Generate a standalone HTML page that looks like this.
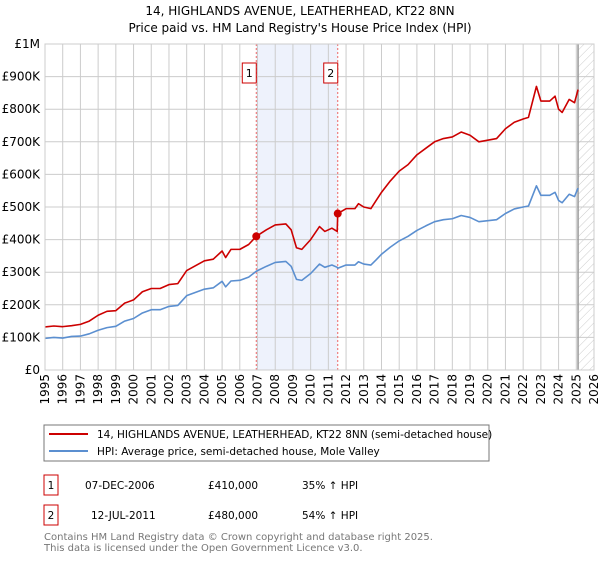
<!DOCTYPE html>
<html><head><meta charset="utf-8"><style>
body{margin:0;background:#fff;font-family:"DejaVu Sans","Liberation Sans",sans-serif}
svg text{font-family:"DejaVu Sans","Liberation Sans",sans-serif}
</style></head><body>
<svg id="c" width="600" height="560" xmlns="http://www.w3.org/2000/svg">
<defs><pattern id="hatch" width="6" height="6" patternUnits="userSpaceOnUse" patternTransform="rotate(45)"><line x1="0" y1="0" x2="0" y2="6" stroke="#ccc" stroke-width="1"/></pattern></defs>
<text x="300" y="15" text-anchor="middle" font-size="12">14, HIGHLANDS AVENUE, LEATHERHEAD, KT22 8NN</text>
<text x="300" y="32" text-anchor="middle" font-size="12">Price paid vs. HM Land Registry's House Price Index (HPI)</text>
<g id="plot"></g>
<rect x="44" y="425" width="445" height="36" fill="none" stroke="#777"/>
<line x1="49" y1="434" x2="88" y2="434" stroke="#cc0000" stroke-width="2"/>
<text x="97" y="438" font-size="10.5">14, HIGHLANDS AVENUE, LEATHERHEAD, KT22 8NN (semi-detached house)</text>
<line x1="49" y1="451" x2="88" y2="451" stroke="#5b8fd0" stroke-width="2"/>
<text x="97" y="455" font-size="10.5">HPI: Average price, semi-detached house, Mole Valley</text>
<g font-size="10.5">
<rect x="44" y="475" width="14" height="20" fill="none" stroke="#c00"/>
<text x="51" y="489" text-anchor="middle">1</text>
<text x="85" y="489">07-DEC-2006</text><text x="208" y="489">£410,000</text><text x="302" y="489">35% ↑ HPI</text>
<rect x="44" y="505" width="14" height="20" fill="none" stroke="#c00"/>
<text x="51" y="519" text-anchor="middle">2</text>
<text x="91" y="519">12-JUL-2011</text><text x="208" y="519">£480,000</text><text x="302" y="519">54% ↑ HPI</text>
</g>
<text x="44" y="540" font-size="10" fill="#777">Contains HM Land Registry data © Crown copyright and database right 2025.</text>
<text x="44" y="551" font-size="10" fill="#777">This data is licensed under the Open Government Licence v3.0.</text>
</svg>
<script>
const dates=[1995,1995.5,1996,1996.5,1997,1997.5,1998,1998.5,1999,1999.5,2000,2000.5,2001,2001.5,2002,2002.5,2003,2003.5,2004,2004.5,2005,2005.2,2005.5,2006,2006.5,2006.93,2007.5,2008,2008.6,2008.9,2009.2,2009.5,2010,2010.5,2010.8,2011.2,2011.5,2011.53,2012,2012.5,2012.7,2013,2013.4,2013.7,2014,2014.5,2015,2015.5,2016,2016.5,2017,2017.5,2018,2018.5,2019,2019.5,2020,2020.5,2021,2021.5,2022,2022.3,2022.75,2023,2023.5,2023.8,2024,2024.2,2024.6,2024.9,2025.1];
const propertyValues=[132,135,133,136,140,150,168,180,182,205,215,240,250,250,262,265,305,320,335,340,365,345,370,370,385,410,430,445,448,430,375,370,400,440,425,435,425,480,495,495,510,500,495,520,545,580,610,630,660,680,700,710,715,730,720,700,705,710,740,760,770,775,870,825,825,840,800,790,830,820,860];
const hpiValues=[97,100,98,103,104,111,122,130,134,150,158,175,185,185,195,198,228,238,248,252,272,255,273,275,285,303,318,330,333,318,278,275,296,325,315,322,315,312,322,322,332,325,322,338,355,377,396,410,428,442,455,461,464,474,468,455,458,461,480,494,500,503,565,536,536,545,520,513,539,532,558];
const yTicks=[0,100,200,300,400,500,600,700,800,900,1000];
const yTickLabels=["£0","£100K","£200K","£300K","£400K","£500K","£600K","£700K","£800K","£900K","£1M"];
const xYears=[1995,1996,1997,1998,1999,2000,2001,2002,2003,2004,2005,2006,2007,2008,2009,2010,2011,2012,2013,2014,2015,2016,2017,2018,2019,2020,2021,2022,2023,2024,2025,2026];
const saleDates=[2006.93,2011.53];
const salePrices=[410,480];
const saleLabels=["1","2"];
const L=45,R=594,T=44,B=370,x0=1995,x1=2026,dataEnd=2025.1;
const X=v=>L+(v-x0)/(x1-x0)*(R-L);
const Y=v=>B-v/1000*(B-T);
const NS="http://www.w3.org/2000/svg";
const g=document.getElementById('plot');
function mk(t,a){const e=document.createElementNS(NS,t);for(const k in a)e.setAttribute(k,a[k]);g.appendChild(e);return e;}
let sh=mk('rect',{x:X(saleDates[0]),y:T,width:X(saleDates[1])-X(saleDates[0]),height:B-T,fill:'#eef2fc'});


let ht=mk('rect',{x:X(dataEnd),y:T,width:R-X(dataEnd),height:B-T,fill:'url(#hatch)'});


yTicks.forEach((v,i)=>{
 let l=mk('line',{x1:L,x2:R,y1:Y(v),y2:Y(v),stroke:'#ccc'});
 
 
 let t=mk('text',{x:40,y:Y(v)+4,'text-anchor':'end','font-size':'12'});t.textContent=yTickLabels[i];
 
 
});
xYears.forEach(yr=>{
 let l=mk('line',{x1:X(yr),x2:X(yr),y1:T,y2:B,stroke:'#ccc'});
 
 
 let t=mk('text',{x:0,y:0,'text-anchor':'end','font-size':'12',transform:`translate(${X(yr)+4},374) rotate(-90)`});t.textContent=yr;
 
 
});
let el=mk('line',{x1:X(dataEnd),x2:X(dataEnd),y1:T,y2:B,stroke:'#999','stroke-width':1.5});


saleDates.forEach((d,i)=>{
 let l=mk('line',{x1:X(d),x2:X(d),y1:T,y2:B,stroke:'#e66','stroke-dasharray':'2,2'});
 
 
 let r=mk('rect',{x:X(d)-14,y:63,width:14,height:20,fill:'#fff',stroke:'#c00'});
 
 
 let t=mk('text',{x:X(d)-7,y:77,'text-anchor':'middle','font-size':'11'});t.textContent=saleLabels[i];
 
 
});
function line(vals,col,name){
 let p=mk('polyline',{points:dates.map((d,i)=>X(d)+','+Y(vals[i])).join(' '),fill:'none',stroke:col,'stroke-width':1.6,'stroke-linejoin':'round'});
 
 
}
line(hpiValues,'#5b8fd0','hpi-line');
line(propertyValues,'#cc0000','property-price-line');
saleDates.forEach((d,i)=>{
 let c=mk('circle',{cx:X(d),cy:Y(salePrices[i]),r:4,fill:'#cc0000'});
 
 
});
let fr=mk('rect',{x:L,y:T,width:R-L,height:B-T,fill:'none',stroke:'#ccc'});


</script>
</body></html>
